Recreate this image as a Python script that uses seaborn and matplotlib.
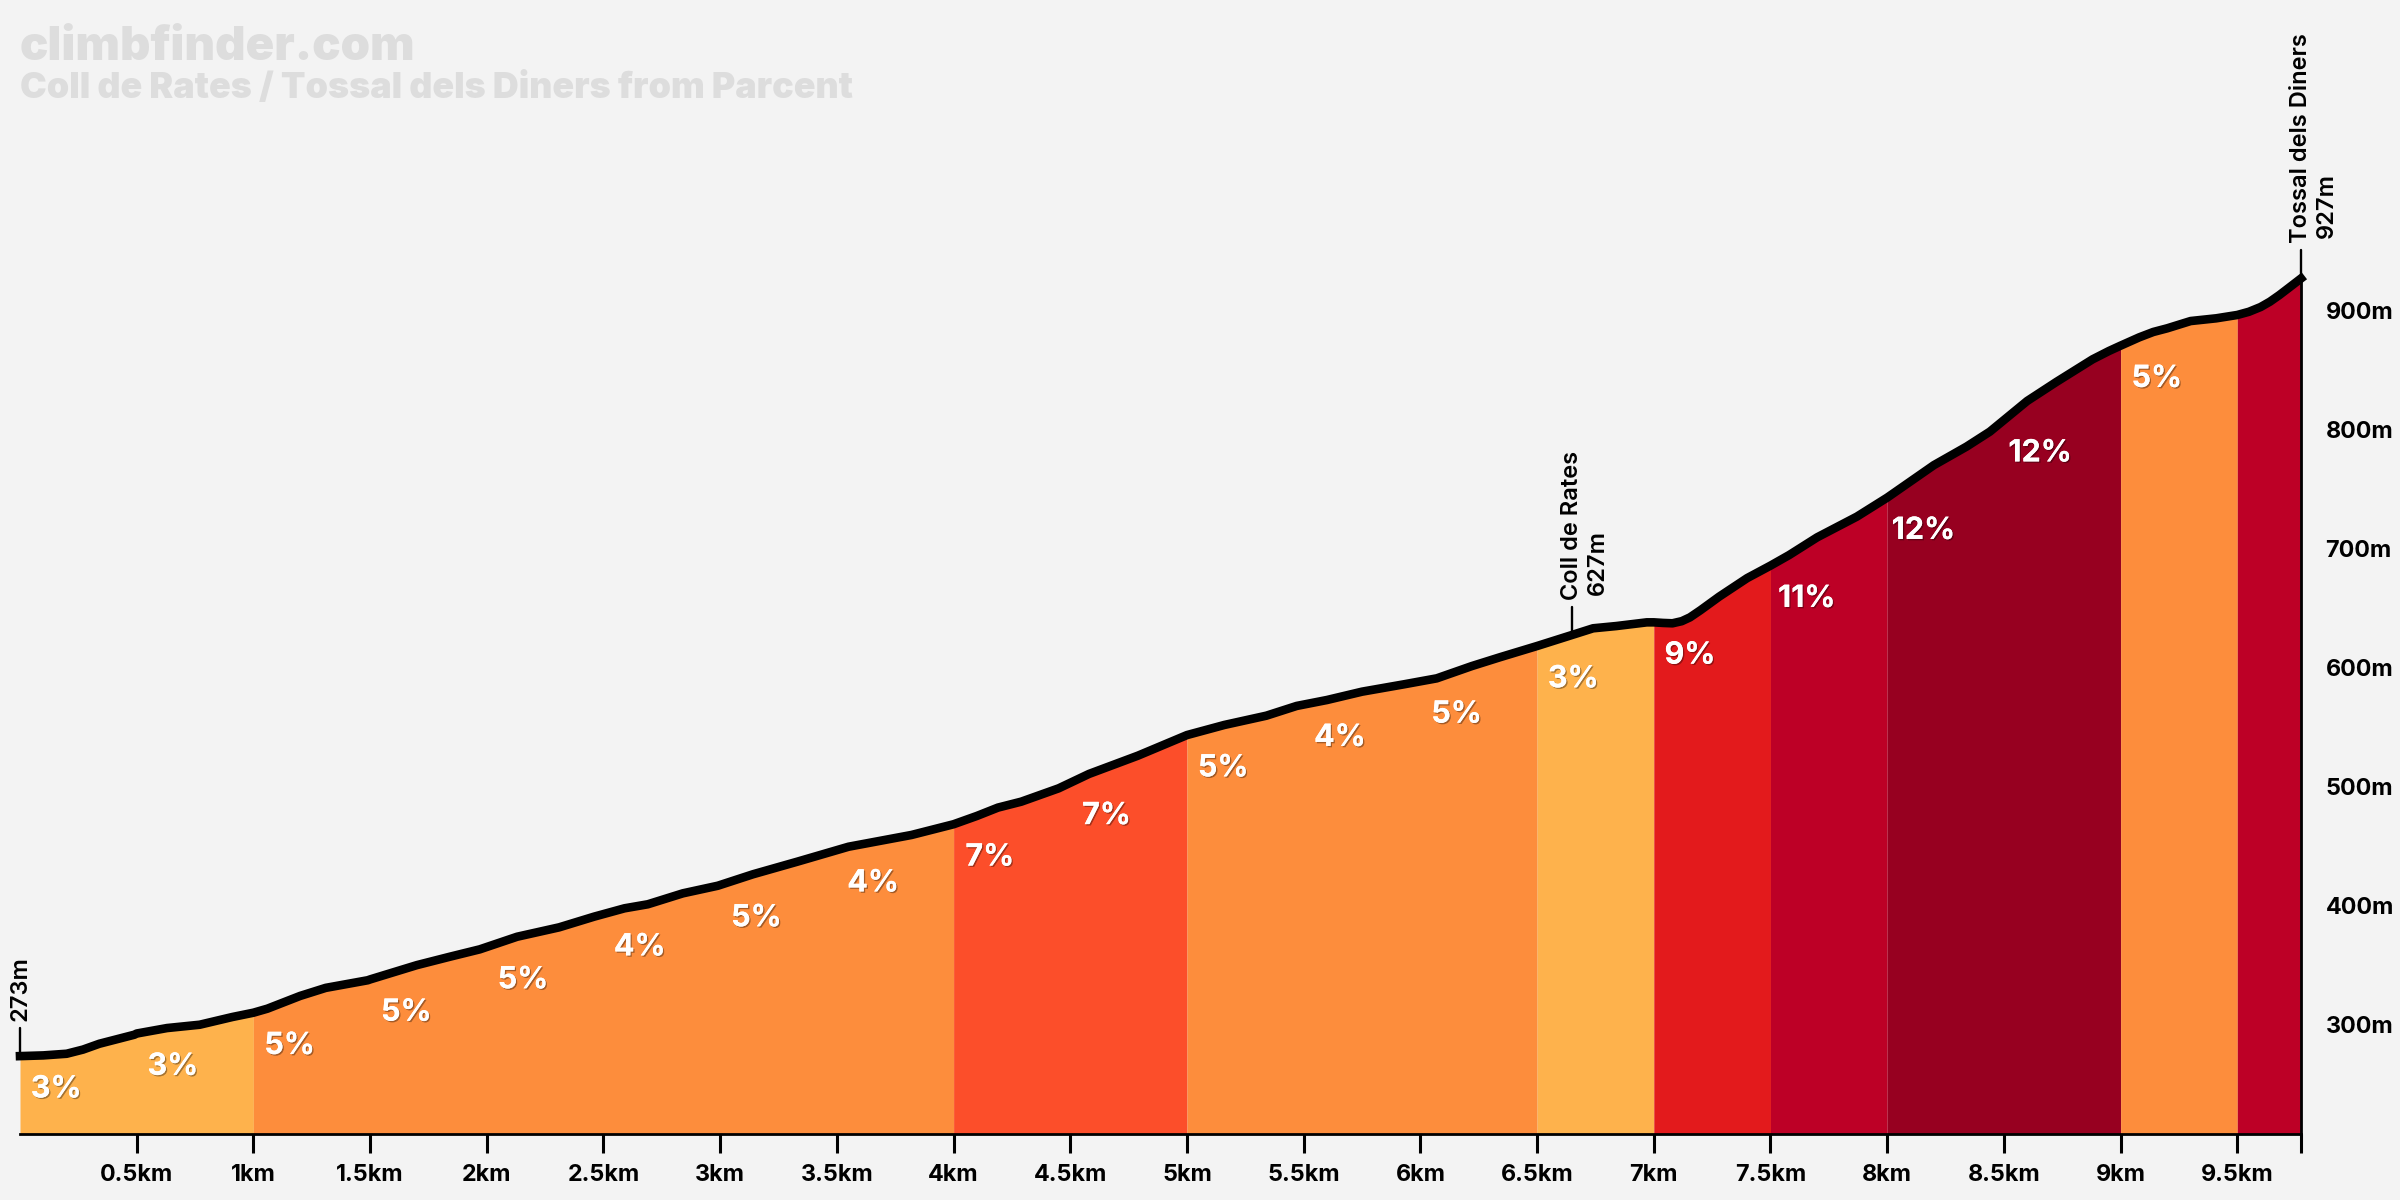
import numpy as np
import pandas as pd
import matplotlib
matplotlib.use("Agg")
import matplotlib.pyplot as plt
import matplotlib.patheffects as pe
import seaborn as sns

# profile
km = [0, 0.1, 0.2, 0.27, 0.34, 0.49, 0.5, 0.63, 0.77, 0.91, 1.0, 1.06, 1.2, 1.31, 1.49, 1.5, 1.7, 1.84, 1.97,
      2.13, 2.31, 2.46, 2.59, 2.69, 2.84, 2.99, 3.14, 3.33, 3.55, 3.82, 4.0, 4.1, 4.19, 4.29, 4.45, 4.58,
      4.79, 5.0, 5.16, 5.34, 5.47, 5.6, 5.75, 5.93, 6.07, 6.22, 6.34, 6.5, 6.65, 6.74, 6.84, 6.97,
      7.0, 7.04, 7.08, 7.12, 7.155, 7.2, 7.28, 7.4, 7.5, 7.58, 7.7, 7.87, 8.0, 8.2, 8.34, 8.44, 8.6, 8.725,
      8.88, 8.95, 9.0, 9.04, 9.08, 9.14, 9.2, 9.3, 9.41, 9.5, 9.55, 9.6, 9.64, 9.68, 9.72, 9.773]
elevation = [273, 273.6, 275, 278.5, 283.4, 291, 292, 296.6, 299.4, 305.9, 309.5, 312.9, 323.6, 330.4, 336.8,
             337.5, 349.5, 356.5, 362.8, 373.4, 381.3, 390.3, 397.3, 400.7, 409.9, 416.3, 425.9, 436.5, 449.1,
             459, 468, 475, 482, 487, 498.2, 510.3, 525.7, 543, 551.5, 559.3, 567.5, 572.5, 579.5, 585.7,
             590.7, 601, 608.4, 617.9, 627.2, 632.8, 634.7, 637.8, 637.8, 637.3, 637, 638.8, 642, 648, 659.4,
             675, 685.5, 694.4, 709.3, 726.7, 742.7, 770, 785.6, 798.2, 824, 840, 859, 866, 870.5, 874, 877.5,
             882, 885.1, 891.2, 893.5, 896.3, 899, 903, 907.5, 913, 919, 927]

# coloured sections
section_edges = [0, 1, 4, 5, 6.5, 7, 7.5, 8, 9, 9.5, 9.773]
section_colors = ["#feb24c", "#fd8d3c", "#fc4e2a", "#fd8d3c", "#feb24c", "#e31a1c", "#bd0026", "#970020",
                  "#fd8d3c", "#bd0026"]

# gradient label for each half kilometre
grade_starts = [0, 0.5, 1, 1.5, 2, 2.5, 3, 3.5, 4, 4.5, 5, 5.5, 6, 6.5, 7, 7.5, 8, 8.5, 9]
grade_labels = ["3%", "3%", "5%", "5%", "5%", "4%", "5%", "4%", "7%", "7%", "5%", "4%", "5%", "3%", "9%",
                "11%", "12%", "12%", "5%"]

xtick_values = [0.5, 1, 1.5, 2, 2.5, 3, 3.5, 4, 4.5, 5, 5.5, 6, 6.5, 7, 7.5, 8, 8.5, 9, 9.5, 9.773]
xtick_labels = ["0.5km", "1km", "1.5km", "2km", "2.5km", "3km", "3.5km", "4km", "4.5km", "5km", "5.5km",
                "6km", "6.5km", "7km", "7.5km", "8km", "8.5km", "9km", "9.5km", ""]
ytick_values = [300, 400, 500, 600, 700, 800, 900]
ytick_labels = ["300m", "400m", "500m", "600m", "700m", "800m", "900m"]

sns.set_theme(style="white")
plt.rcParams["font.family"] = ["Inter", "DejaVu Sans"]
BG = "#f3f3f3"

df = pd.DataFrame({"km": km, "elevation": elevation})

fig = plt.figure(figsize=(12, 6), dpi=200, facecolor=BG)
ax = fig.add_axes([20 / 2400, 66 / 1200, 2281 / 2400, 1134 / 1200], facecolor=BG)
ax.set_xlim(0, 9.773)
ax.set_ylim(207.5, 1161.2)

# filled sections under the line
for i, color in enumerate(section_colors):
    part = df[(df.km >= section_edges[i]) & (df.km <= section_edges[i + 1])]
    ax.fill_between(part.km, 207.5, part.elevation, color=color, lw=0, zorder=1, antialiased=False)

line = sns.lineplot(data=df, x="km", y="elevation", ax=ax, color="black", lw=3.1, estimator=None,
                    sort=False, zorder=4, clip_on=False)
line.lines[0].set_solid_capstyle("projecting")
line.lines[0].set_solid_joinstyle("round")

# gradient labels
shadow = [pe.withSimplePatchShadow(offset=(0.5, -0.5), shadow_rgbFace="black", alpha=0.35), pe.Normal()]
for start, label in zip(grade_starts, grade_labels):
    ax.text(start + 0.155, np.interp(start, km, elevation) - 28, label, color="white", fontsize=11,
            fontweight="bold", ha="center", va="center", zorder=5, path_effects=shadow)

# place markers
marks = [(0, 273, "273m", None), (6.65, 627, "Coll de Rates", "627m"), (9.773, 927, "Tossal dels Diners", "927m")]
for x, y, first, second in marks:
    ax.plot([x, x], [y, y + 24], color="black", lw=0.85, zorder=3, clip_on=False)
    ax.text(x, y + 29.5, first, rotation=90, ha="center", va="bottom", fontsize=8.5, fontweight="semibold",
            color="black", clip_on=False)
    if second:
        ax.text(x + 0.112, y + 34, second, rotation=90, ha="center", va="bottom", fontsize=8.5,
                fontweight="semibold", color="black", clip_on=False)

# axes
ax.set_xlabel("")
ax.set_ylabel("")
ax.set_xticks(xtick_values)
ax.set_xticklabels(xtick_labels)
ax.yaxis.tick_right()
ax.set_yticks(ytick_values)
ax.set_yticklabels(ytick_labels, va="center_baseline")
ax.tick_params(axis="x", length=6.8, width=1.1, color="black", pad=4, bottom=True)
ax.tick_params(axis="y", length=6.8, width=1.1, color="black", pad=2, right=True)
for label in ax.get_xticklabels() + ax.get_yticklabels():
    label.set_fontsize(8.4)
    label.set_fontweight("bold")
    label.set_color("black")
sns.despine(ax=ax, top=True, left=True, right=False, bottom=False)
for side in ["bottom", "right"]:
    ax.spines[side].set_color("black")
    ax.spines[side].set_linewidth(1.0)
ax.spines["right"].set_bounds(207.5, 927)

# faint header
fig.text(20 / 2400, 1 - 60 / 1200, "climbfinder.com", color="#dddddd", fontsize=17, fontweight="black", va="baseline")
fig.text(20 / 2400, 1 - 98 / 1200, "Coll de Rates / Tossal dels Diners from Parcent", color="#dddddd",
         fontsize=12.9, fontweight="black", va="baseline")

fig.savefig("out.png", dpi=200, facecolor=BG)
